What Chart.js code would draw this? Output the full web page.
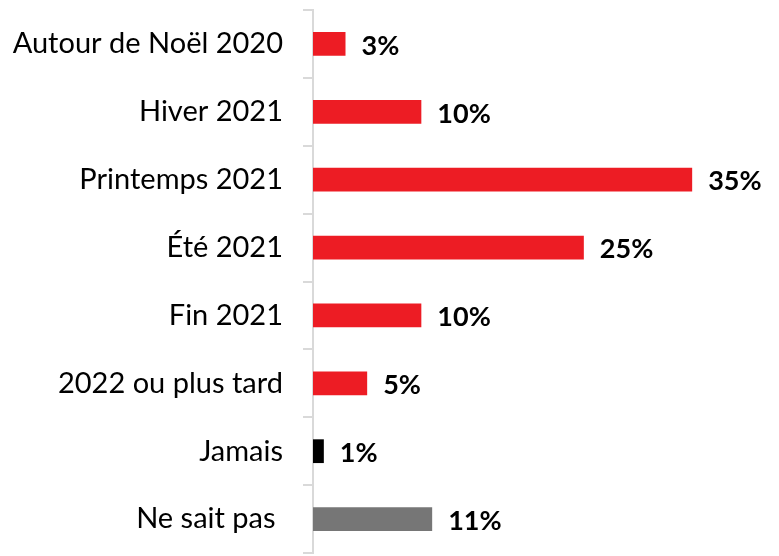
<!DOCTYPE html>
<html>
<head>
<meta charset="utf-8">
<script src="https://cdn.jsdelivr.net/npm/chart.js@4/dist/chart.umd.min.js"></script>
<style>
  html, body { margin: 0; padding: 0; background: #ffffff; }
</style>
</head>
<body>
<canvas id="chart" width="779" height="556"></canvas>
<script>
// données
const categories = ['Autour de Noël 2020', 'Hiver 2021', 'Printemps 2021', 'Été 2021', 'Fin 2021', '2022 ou plus tard', 'Jamais', 'Ne sait pas '];
const values = [3, 10, 35, 25, 10, 5, 1, 11];
const barColors = ['#ED1C24', '#ED1C24', '#ED1C24', '#ED1C24', '#ED1C24', '#ED1C24', '#000000', '#767676'];

const FONT = 'Lato, "Noto Sans", sans-serif';

// étiquettes de valeur à droite des barres
const valueLabels = {
    id: 'valueLabels',
    afterDatasetsDraw(chart) {
        const ctx = chart.ctx;
        const meta = chart.getDatasetMeta(0);
        ctx.save();
        ctx.font = 'bold 27px ' + FONT;
        ctx.fillStyle = '#000000';
        ctx.textAlign = 'left';
        ctx.textBaseline = 'middle';
        meta.data.forEach((bar, i) => {
            ctx.fillText(values[i] + '%', bar.x + 16, bar.y + 2);
        });
        ctx.restore();
    }
};

const ctx = document.getElementById('chart').getContext('2d');
new Chart(ctx, {
    type: 'bar',
    data: {
        labels: categories,
        datasets: [{
            data: values,
            backgroundColor: barColors,
            borderWidth: 0,
            barPercentage: 0.7,
            categoryPercentage: 0.5
        }]
    },
    options: {
        indexAxis: 'y',
        responsive: false,
        animation: false,
        layout: { padding: { top: 10, bottom: 3, left: 0, right: 11 } },
        plugins: {
            legend: { display: false },
            tooltip: { enabled: false }
        },
        scales: {
            x: {
                display: false,
                min: 0,
                max: 42
            },
            y: {
                afterFit(scale) {
                    scale.width = 313;
                    // pas de marge pour les libellés du haut et du bas
                    scale.paddingTop = 0;
                    scale.paddingBottom = 0;
                },
                border: { display: true, color: '#d9d9d9', width: 2 },
                grid: {
                    offset: true,
                    drawOnChartArea: false,
                    drawTicks: true,
                    tickLength: 10,
                    color: '#d9d9d9',
                    lineWidth: 2
                },
                ticks: {
                    color: '#000000',
                    padding: 20,
                    autoSkip: false,
                    font: { family: FONT, size: 29 }
                }
            }
        }
    },
    plugins: [valueLabels]
});
</script>
</body>
</html>
